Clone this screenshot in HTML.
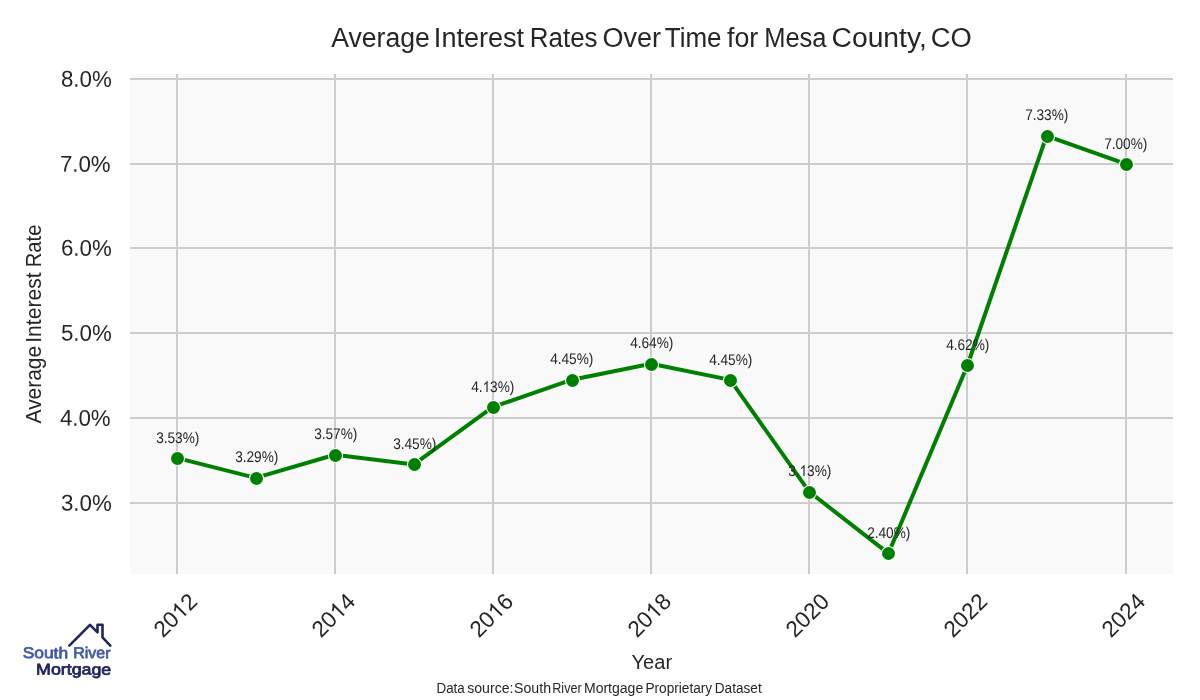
<!DOCTYPE html>
<html><head><meta charset="utf-8"><title>Average Interest Rates</title>
<style>
html,body{margin:0;padding:0;background:#fff;}
body{width:1200px;height:700px;overflow:hidden;font-family:"Liberation Sans",sans-serif;}
svg{display:block;will-change:transform;}
svg text{font-family:"Liberation Sans",sans-serif;}
</style></head><body>
<svg width="1200" height="700" viewBox="0 0 1200 700">
<rect x="0" y="0" width="1200" height="700" fill="#ffffff"/>
<rect x="130" y="74" width="1043" height="500" fill="#f9f9f9"/>
<g fill="#cccccc" shape-rendering="crispEdges">
<rect x="176" y="74" width="2" height="500"/>
<rect x="334" y="74" width="2" height="500"/>
<rect x="492" y="74" width="2" height="500"/>
<rect x="650" y="74" width="2" height="500"/>
<rect x="808" y="74" width="2" height="500"/>
<rect x="966" y="74" width="2" height="500"/>
<rect x="1125" y="74" width="2" height="500"/>
<rect x="130" y="78" width="1043" height="2"/>
<rect x="130" y="163" width="1043" height="2"/>
<rect x="130" y="247" width="1043" height="2"/>
<rect x="130" y="332" width="1043" height="2"/>
<rect x="130" y="417" width="1043" height="2"/>
<rect x="130" y="502" width="1043" height="2"/>
</g>
<polyline points="176.62,457.86 255.70,477.87 334.79,454.72 413.87,464.39 492.95,406.98 572.04,379.67 651.12,363.73 730.20,379.84 809.29,491.78 888.37,553.43 967.45,365.25 1046.54,135.79 1125.62,163.77" fill="none" stroke="#008000" stroke-width="4.0" stroke-linejoin="round" stroke-linecap="round"/>
<g fill="#008000" stroke="#ffffff" stroke-width="1.1">
<circle cx="177.5" cy="458.5" r="7.05"/>
<circle cx="256.5" cy="478.5" r="7.05"/>
<circle cx="335.5" cy="455.5" r="7.05"/>
<circle cx="414.5" cy="464.5" r="7.05"/>
<circle cx="493.5" cy="407.5" r="7.05"/>
<circle cx="572.5" cy="380.5" r="7.05"/>
<circle cx="651.5" cy="364.5" r="7.05"/>
<circle cx="730.5" cy="380.5" r="7.05"/>
<circle cx="809.5" cy="492.5" r="7.05"/>
<circle cx="888.5" cy="553.5" r="7.05"/>
<circle cx="967.5" cy="365.5" r="7.05"/>
<circle cx="1047.5" cy="136.5" r="7.05"/>
<circle cx="1126.5" cy="164.5" r="7.05"/>
</g>
<g font-size="15.4" fill="#262626" text-anchor="middle">
<text transform="translate(177.75,443) rotate(0.2) scale(0.885,1)" x="-24.397" y="0" text-anchor="start">3.53%)</text>
<text transform="translate(256.75,462) rotate(0.2) scale(0.885,1)" x="-24.397" y="0" text-anchor="start">3.29%)</text>
<text transform="translate(335.75,439) rotate(0.2) scale(0.885,1)" x="-24.397" y="0" text-anchor="start">3.57%)</text>
<text transform="translate(414.75,449) rotate(0.2) scale(0.885,1)" x="-24.397" y="0" text-anchor="start">3.45%)</text>
<text transform="translate(492.75,392) rotate(0.2) scale(0.885,1)" x="-24.397" y="0" text-anchor="start">4.</text>
<path transform="translate(492.75,392) rotate(0.2) scale(0.885,1) translate(-11.554,0) scale(0.007520,-0.007520)" d="M763 0L583 0L583 1147Q518 1085 412.5 1023Q307 961 223 930L223 1104Q374 1175 487 1276Q600 1377 647 1472L763 1472Z"/>
<text transform="translate(492.75,392) rotate(0.2) scale(0.885,1)" x="-2.989" y="0" text-anchor="start">3%)</text>
<text transform="translate(571.75,364) rotate(0.2) scale(0.885,1)" x="-24.397" y="0" text-anchor="start">4.45%)</text>
<text transform="translate(651.75,348) rotate(0.2) scale(0.885,1)" x="-24.397" y="0" text-anchor="start">4.64%)</text>
<text transform="translate(730.75,365) rotate(0.2) scale(0.885,1)" x="-24.397" y="0" text-anchor="start">4.45%)</text>
<text transform="translate(809.75,476) rotate(0.2) scale(0.885,1)" x="-24.397" y="0" text-anchor="start">3.</text>
<path transform="translate(809.75,476) rotate(0.2) scale(0.885,1) translate(-11.554,0) scale(0.007520,-0.007520)" d="M763 0L583 0L583 1147Q518 1085 412.5 1023Q307 961 223 930L223 1104Q374 1175 487 1276Q600 1377 647 1472L763 1472Z"/>
<text transform="translate(809.75,476) rotate(0.2) scale(0.885,1)" x="-2.989" y="0" text-anchor="start">3%)</text>
<text transform="translate(888.75,538) rotate(0.2) scale(0.885,1)" x="-24.397" y="0" text-anchor="start">2.40%)</text>
<text transform="translate(967.75,350) rotate(0.2) scale(0.885,1)" x="-24.397" y="0" text-anchor="start">4.62%)</text>
<text transform="translate(1046.75,120) rotate(0.2) scale(0.885,1)" x="-24.397" y="0" text-anchor="start">7.33%)</text>
<text transform="translate(1125.75,149) rotate(0.2) scale(0.885,1)" x="-24.397" y="0" text-anchor="start">7.00%)</text>
</g>
<g font-size="22.7" fill="#262626" text-anchor="end">
<text transform="translate(111.70,510.80) rotate(0.2) scale(0.98,1)">3.0%</text>
<text transform="translate(110.60,425.80) rotate(0.2) scale(0.98,1)">4.0%</text>
<text transform="translate(111.70,340.80) rotate(0.2) scale(0.98,1)">5.0%</text>
<text transform="translate(111.70,255.80) rotate(0.2) scale(0.98,1)">6.0%</text>
<text transform="translate(110.60,171.80) rotate(0.2) scale(0.98,1)">7.0%</text>
<text transform="translate(111.70,86.80) rotate(0.2) scale(0.98,1)">8.0%</text>
</g>
<g font-size="22.67" fill="#262626" text-anchor="middle">
<text transform="translate(175.00,614.95) rotate(-45) translate(0,8.1)" x="-25.216" y="0" text-anchor="start">20</text>
<path transform="translate(175.00,614.95) rotate(-45) translate(0,8.1) translate(0.000,0) scale(0.011069,-0.011069)" d="M763 0L583 0L583 1147Q518 1085 412.5 1023Q307 961 223 930L223 1104Q374 1175 487 1276Q600 1377 647 1472L763 1472Z"/>
<text transform="translate(175.00,614.95) rotate(-45) translate(0,8.1)" x="12.608" y="0" text-anchor="start">2</text>
<text transform="translate(333.00,614.95) rotate(-45) translate(0,8.1)" x="-25.216" y="0" text-anchor="start">20</text>
<path transform="translate(333.00,614.95) rotate(-45) translate(0,8.1) translate(0.000,0) scale(0.011069,-0.011069)" d="M763 0L583 0L583 1147Q518 1085 412.5 1023Q307 961 223 930L223 1104Q374 1175 487 1276Q600 1377 647 1472L763 1472Z"/>
<text transform="translate(333.00,614.95) rotate(-45) translate(0,8.1)" x="12.608" y="0" text-anchor="start">4</text>
<text transform="translate(491.00,614.95) rotate(-45) translate(0,8.1)" x="-25.216" y="0" text-anchor="start">20</text>
<path transform="translate(491.00,614.95) rotate(-45) translate(0,8.1) translate(0.000,0) scale(0.011069,-0.011069)" d="M763 0L583 0L583 1147Q518 1085 412.5 1023Q307 961 223 930L223 1104Q374 1175 487 1276Q600 1377 647 1472L763 1472Z"/>
<text transform="translate(491.00,614.95) rotate(-45) translate(0,8.1)" x="12.608" y="0" text-anchor="start">6</text>
<text transform="translate(649.00,614.95) rotate(-45) translate(0,8.1)" x="-25.216" y="0" text-anchor="start">20</text>
<path transform="translate(649.00,614.95) rotate(-45) translate(0,8.1) translate(0.000,0) scale(0.011069,-0.011069)" d="M763 0L583 0L583 1147Q518 1085 412.5 1023Q307 961 223 930L223 1104Q374 1175 487 1276Q600 1377 647 1472L763 1472Z"/>
<text transform="translate(649.00,614.95) rotate(-45) translate(0,8.1)" x="12.608" y="0" text-anchor="start">8</text>
<text transform="translate(807.00,614.95) rotate(-45) translate(0,8.1)" x="-25.216" y="0" text-anchor="start">2020</text>
<text transform="translate(965.00,614.95) rotate(-45) translate(0,8.1)" x="-25.216" y="0" text-anchor="start">2022</text>
<text transform="translate(1123.00,614.95) rotate(-45) translate(0,8.1)" x="-25.216" y="0" text-anchor="start">2024</text>
</g>
<g font-size="26.8" fill="#262626">
<text x="331.25" y="46.9" textLength="98.56" lengthAdjust="spacingAndGlyphs">Average</text>
<text x="433.89" y="46.9" textLength="90.21" lengthAdjust="spacingAndGlyphs">Interest</text>
<text x="529.82" y="46.9" textLength="67.69" lengthAdjust="spacingAndGlyphs">Rates</text>
<text x="602.49" y="46.9" textLength="58.56" lengthAdjust="spacingAndGlyphs">Over</text>
<text x="664.78" y="46.9" textLength="56.73" lengthAdjust="spacingAndGlyphs">Time</text>
<text x="726.95" y="46.9" textLength="31.26" lengthAdjust="spacingAndGlyphs">for</text>
<text x="764.19" y="46.9" textLength="62.37" lengthAdjust="spacingAndGlyphs">Mesa</text>
<text x="831.59" y="46.9" textLength="95.19" lengthAdjust="spacingAndGlyphs">County,</text>
<text x="930.71" y="46.9" textLength="41.00" lengthAdjust="spacingAndGlyphs">CO</text>
</g>
<g font-size="21.3" fill="#262626">
<text transform="translate(40.9,423.41) rotate(-90)" textLength="77.46" lengthAdjust="spacingAndGlyphs">Average</text>
<text transform="translate(40.9,342.77) rotate(-90)" textLength="70.34" lengthAdjust="spacingAndGlyphs">Interest</text>
<text transform="translate(40.9,267.20) rotate(-90)" textLength="42.63" lengthAdjust="spacingAndGlyphs">Rate</text>
</g>
<text x="631.5" y="668.75" font-size="19.33" fill="#262626" textLength="40.6" lengthAdjust="spacingAndGlyphs">Year</text>
<g font-size="13.8" fill="#262626">
<text x="436.44" y="692.7" textLength="28.39" lengthAdjust="spacingAndGlyphs">Data</text>
<text x="467.20" y="692.7" textLength="46.31" lengthAdjust="spacingAndGlyphs">source:</text>
<text x="513.99" y="692.7" textLength="37.05" lengthAdjust="spacingAndGlyphs">South</text>
<text x="552.24" y="692.7" textLength="29.50" lengthAdjust="spacingAndGlyphs">River</text>
<text x="583.96" y="692.7" textLength="59.24" lengthAdjust="spacingAndGlyphs">Mortgage</text>
<text x="645.41" y="692.7" textLength="66.77" lengthAdjust="spacingAndGlyphs">Proprietary</text>
<text x="714.79" y="692.7" textLength="46.89" lengthAdjust="spacingAndGlyphs">Dataset</text>
</g>
<path d="M69.3 645.6 L90 624.8 L97.5 632.3 L97.5 624.7 L102.5 624.7 L102.5 637.3 L110.3 645.6" fill="none" stroke="#20265f" stroke-width="2.6" stroke-linejoin="round" stroke-linecap="round"/>
<g font-size="15.6" font-weight="normal" stroke-width="0.75" stroke-linejoin="round">
<text transform="translate(22.76,658.0) rotate(0.25)" fill="#415aa9" stroke="#415aa9" textLength="45.32" lengthAdjust="spacingAndGlyphs">South</text>
<text transform="translate(73.33,658.0) rotate(0.25)" fill="#415aa9" stroke="#415aa9" textLength="37.17" lengthAdjust="spacingAndGlyphs">River</text>
<text transform="translate(36.07,674.4) rotate(0.25)" fill="#20265f" stroke="#20265f" textLength="75.12" lengthAdjust="spacingAndGlyphs">Mortgage</text>
</g>
</svg></body></html>
